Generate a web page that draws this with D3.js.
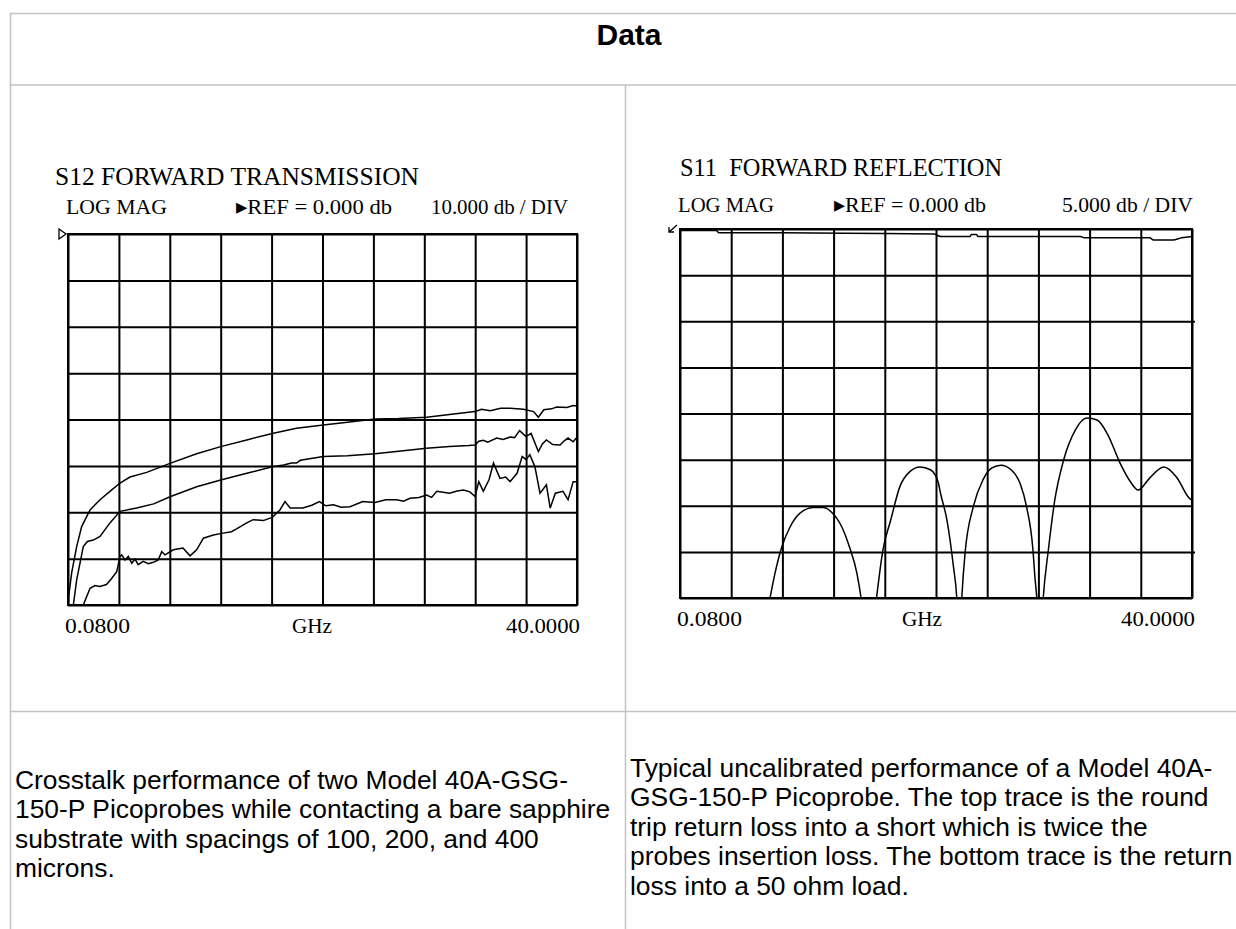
<!DOCTYPE html>
<html>
<head>
<meta charset="utf-8">
<script src="https://cdn.jsdelivr.net/npm/d3@7"></script>
<style>
body { margin: 0; background: #fff; }
text { white-space: pre; }
</style>
</head>
<body>
<svg id="page" width="1236" height="929"></svg>
<script>

// ---- data, [GHz, dB] ----

// S12 crosstalk, probes 100 / 200 / 400 microns apart
var s12_100um = [[0.08,-84],[0.14,-78],[0.37,-73],[0.76,-67.4],[1.15,-63.1],[1.81,-59.5],[2.59,-57.3],[3.37,-55.5],[4.16,-53.7],[4.94,-52.4],[6.25,-51.4],[8.13,-49.4],[10.17,-47.4],[12.13,-45.8],[14.1,-44.4],[16.1,-43.0],[18.0,-41.9],[20.1,-41.2],[22.0,-40.6],[24.16,-39.9],[26.0,-39.8],[28.2,-39.5],[30.0,-38.9],[31.0,-38.6],[32.0,-38.3],[32.5,-37.8],[33.2,-38.1],[34.0,-37.6],[34.75,-37.6],[35.8,-37.8],[36.6,-38.3],[36.97,-39.5],[37.4,-37.9],[38.0,-37.7],[38.4,-37.3],[39.2,-37.4],[39.7,-37.0],[40.0,-37.1]];

var s12_200um = [[0.4,-84],[0.5,-80],[0.76,-74.6],[1.28,-67.4],[1.6,-66.3],[2.06,-66],[2.59,-65.2],[3.37,-62.3],[4.16,-59.8],[5.46,-59.1],[6.8,-58.2],[8.13,-56.6],[10.17,-54.5],[12.13,-53.0],[14.1,-51.6],[16.1,-50.2],[17.0,-49.8],[17.6,-49.4],[18.0,-49.4],[18.3,-48.8],[20.1,-48.0],[22.0,-47.8],[24.16,-47.4],[26.2,-46.8],[28.2,-46.2],[30.0,-45.8],[31.5,-45.6],[32.0,-45.5],[32.3,-44.7],[32.65,-44.5],[33.0,-44.9],[33.7,-44.0],[34.2,-44.3],[34.75,-43.8],[35.1,-43.9],[35.5,-42.4],[36.0,-43.7],[36.4,-43.0],[36.97,-46.9],[37.3,-45.2],[37.6,-44.4],[38.1,-45.4],[38.67,-45.5],[39.0,-44.6],[39.3,-44.0],[39.7,-44.8],[40.0,-43.8]];

var s12_400um = [[1.2,-84],[1.28,-80],[1.81,-76.4],[2.2,-75.8],[2.59,-76.0],[3.1,-75.6],[3.5,-74.3],[3.9,-72.8],[4.16,-69.5],[4.29,-69.2],[4.55,-70.3],[4.81,-69.5],[5.08,-71.0],[5.33,-70.1],[5.59,-71.3],[5.98,-70.6],[6.38,-71.1],[6.77,-70.8],[7.16,-70.3],[7.43,-68.5],[7.69,-69.2],[8.34,-68.1],[9.1,-67.7],[9.65,-69.4],[10.17,-68.1],[10.7,-65.6],[11.48,-64.9],[12.25,-64.5],[12.9,-64.2],[13.3,-63.6],[14.1,-62.3],[14.6,-61.6],[15.4,-61.8],[16.1,-61.1],[16.7,-59.5],[17.1,-57.7],[17.5,-59.1],[18.5,-59.1],[19.2,-58.5],[19.8,-57.7],[20.3,-58.6],[20.9,-58.4],[21.5,-58.9],[22.2,-58.8],[23.2,-57.7],[24.16,-57.9],[25.0,-57.3],[25.85,-57.3],[26.4,-57.6],[26.9,-57.0],[27.6,-56.8],[28.2,-56.3],[28.6,-56.8],[29.0,-55.5],[29.5,-55.7],[30.0,-55.9],[30.6,-55.4],[31.1,-55.2],[31.6,-55.6],[32.0,-56.6],[32.3,-53.4],[32.65,-55.5],[33.1,-53.0],[33.45,-49.4],[33.96,-52.7],[34.4,-52.4],[34.75,-53.4],[35.3,-51.6],[35.7,-48.0],[36.0,-48.6],[36.3,-47.6],[36.7,-50.2],[37.1,-55.9],[37.6,-54.1],[37.9,-59.1],[38.3,-55.9],[38.9,-55.5],[39.3,-57.3],[39.7,-53.4],[40.0,-53.4]];

// S11 return loss: into a short (top) and into a 50 ohm load (bottom)
var s11_short = [[0.08,-0.15],[2.9,-0.15],[3.1,-0.4],[8.0,-0.4],[16.0,-0.5],[19.9,-0.55],[20.4,-0.8],[22.7,-0.8],[22.8,-0.6],[23.2,-0.6],[23.3,-0.8],[31.3,-0.8],[31.6,-0.95],[36.7,-0.95],[37.0,-1.2],[38.5,-1.2],[39.2,-0.95],[40.0,-0.8]];

var s11_load = [[6.6,-44],[7.1,-40],[7.49,-37.3],[8.01,-34.5],[8.66,-32.3],[9.44,-30.8],[10.48,-30.2],[11.26,-30.2],[11.9,-30.7],[12.7,-32.3],[13.3,-34.5],[13.87,-37.3],[14.2,-40],[14.8,-47],[15.4,-40],[15.9,-34.8],[16.5,-31.6],[17.23,-27.9],[18.0,-26.3],[18.8,-25.8],[19.6,-26.1],[20.2,-27.4],[20.4,-28.7],[20.9,-31.6],[21.4,-36.6],[21.66,-40],[21.85,-46],[22.05,-40],[22.3,-35.2],[22.95,-30.1],[23.7,-27.2],[24.4,-25.9],[25.1,-25.6],[25.9,-26.1],[26.6,-27.6],[27.1,-30.1],[27.6,-34.8],[27.75,-37.7],[27.9,-40],[28.15,-46],[28.4,-40],[28.8,-34.8],[29.3,-29.4],[29.98,-25.1],[30.9,-21.8],[31.8,-20.5],[32.6,-20.7],[33.4,-22.2],[34.4,-25.4],[35.2,-27.4],[35.8,-28.3],[36.7,-27.0],[37.8,-25.8],[38.8,-26.9],[39.8,-29.2],[40.0,-29.4]];

// sweep and display settings shown on the screens
var startGHz = 0.08, stopGHz = 40;
var xLabels = ["0.0800", "GHz", "40.0000"];
var refLevel = 0;
var leftScale = 10, rightScale = 5;   // db per division
var xDivs = 10, yDivs = 8;

var leftText = ["Crosstalk performance of two Model 40A-GSG-",
                "150-P Picoprobes while contacting a bare sapphire",
                "substrate with spacings of 100, 200, and 400",
                "microns."];
var rightText = ["Typical uncalibrated performance of a Model 40A-",
                 "GSG-150-P Picoprobe. The top trace is the round",
                 "trip return loss into a short which is twice the",
                 "probes insertion loss. The bottom trace is the return",
                 "loss into a 50 ohm load."];

var svg = d3.select("#page");
svg.append("rect").attr("width", 1236).attr("height", 929).attr("fill", "#fff");

// ---- the html-like table around the plots ----
var border = "#c2c2c2";
function hline(y, x1, x2) {
    svg.append("line").attr("x1", x1).attr("x2", x2).attr("y1", y).attr("y2", y)
        .attr("stroke", border).attr("stroke-width", 1.5);
}
function vline(x, y1, y2) {
    svg.append("line").attr("x1", x).attr("x2", x).attr("y1", y1).attr("y2", y2)
        .attr("stroke", border).attr("stroke-width", 1.5);
}
hline(13.5, 10, 1236);
hline(85, 10, 1236);
hline(711.5, 10, 1236);
vline(10.5, 13, 929);
vline(625.5, 85, 929);

svg.append("text").attr("x", 629).attr("y", 45).attr("text-anchor", "middle")
    .style("font-family", "Liberation Sans, Arial, sans-serif").style("font-weight", "bold")
    .style("font-size", "30px").text("Data");

function paragraph(lines, x, y0) {
    svg.append("text")
        .style("font-family", "Liberation Sans, Arial, sans-serif").style("font-size", "26.4px")
        .selectAll("tspan").data(lines).enter().append("tspan")
        .attr("x", x).attr("y", function(d, i) { return y0 + i * 29.4; })
        .text(function(d) { return d; });
}
paragraph(leftText, 15, 789);
paragraph(rightText, 630, 777);

// ---- one analyzer screen ----
// box = plot area in page pixels, dbPerDiv sets the y range below refLevel
function drawScreen(o) {
    var x = d3.scaleLinear().domain([startGHz, stopGHz]).range([o.box.left, o.box.right]);
    var y = d3.scaleLinear().domain([refLevel - o.dbPerDiv * yDivs, refLevel]).range([o.box.bottom, o.box.top]);
    var w = o.box.right - o.box.left, h = o.box.bottom - o.box.top;

    var g = svg.append("g");
    var serif = "Liberation Serif, Times New Roman, serif";

    var xTicks = d3.range(xDivs + 1).map(function(i) { return startGHz + i * (stopGHz - startGHz) / xDivs; });
    var yTicks = d3.range(yDivs + 1).map(function(i) { return refLevel - i * o.dbPerDiv; });

    // graticule
    g.append("g").attr("transform", "translate(0," + o.box.bottom + ")")
        .call(d3.axisBottom(x).tickValues(xTicks).tickSize(-h).tickFormat(""))
        .call(function(a) { a.select(".domain").remove(); a.selectAll("line").attr("stroke", "#000").attr("stroke-width", 2); });
    g.append("g").attr("transform", "translate(" + o.box.left + ",0)")
        .call(d3.axisLeft(y).tickValues(yTicks).tickSize(-(w + o.overhang)).tickFormat(""))
        .call(function(a) {
            a.select(".domain").remove();
            a.selectAll("line").attr("stroke", "#000").attr("stroke-width", 2)
                // only some rows of the screen run past the right edge
                .attr("x2", function(d) { return o.longRows.indexOf(d) >= 0 ? w + o.overhang : w; });
        });
    g.append("rect").attr("x", o.box.left).attr("y", o.box.top).attr("width", w).attr("height", h)
        .attr("fill", "none").attr("stroke", "#000").attr("stroke-width", 2);

    // reference marker at the left edge
    var ry = y(refLevel), rx = x(startGHz);
    g.append("path").attr("d", o.marker(rx, ry))
        .attr("fill", "none").attr("stroke", "#000").attr("stroke-width", 1.3);

    // traces, clipped to the graticule
    var clipId = "clip" + o.id;
    g.append("clipPath").attr("id", clipId).append("rect")
        .attr("x", o.box.left).attr("y", o.box.top - 2).attr("width", w).attr("height", h + 2);
    var line = d3.line().x(function(d) { return x(d[0]); }).y(function(d) { return y(d[1]); }).curve(o.curve);
    g.append("g").attr("clip-path", "url(#" + clipId + ")")
        .selectAll("path").data(o.traces).enter().append("path")
        .attr("d", line).attr("fill", "none").attr("stroke", "#000").attr("stroke-width", 1.5);

    // screen annotations
    function label(t, lx, ly, size, len, anchor) {
        g.append("text").attr("x", lx).attr("y", ly).attr("text-anchor", anchor || "start")
            .attr("textLength", len).attr("lengthAdjust", "spacingAndGlyphs")
            .style("font-family", serif).style("font-size", size + "px").text(t);
    }
    label(o.title, o.titleX, o.titleY, 25, o.titleLen);
    label("LOG MAG", o.box.left - 2, o.headY, 22, o.logLen);
    label("\u25B8REF = 0.000 db", o.refX, o.headY, 22, o.refLen);
    label(o.dbPerDiv.toFixed(3) + " db / DIV", o.divX, o.headY, 22, o.divLen);
    label(xLabels[0], o.box.left - 3, o.footY, 22, 65);
    label(xLabels[1], o.ghzX, o.footY, 22, 40);
    label(xLabels[2], o.box.right + 3, o.footY, 22, 74, "end");
}

drawScreen({
    id: "L", box: {left: 68, right: 577, top: 234, bottom: 605},
    dbPerDiv: leftScale, traces: [s12_100um, s12_200um, s12_400um], curve: d3.curveLinear,
    overhang: 0, longRows: [],
    marker: function(rx, ry) { return "M" + (rx - 9) + "," + (ry - 5) + "L" + (rx - 2) + "," + ry + "L" + (rx - 9) + "," + (ry + 5) + "Z"; },
    title: "S12 FORWARD TRANSMISSION", titleX: 55, titleY: 185, titleLen: 364,
    headY: 214, logLen: 101, refX: 236, refLen: 156, divX: 431, divLen: 137,
    footY: 633, ghzX: 292
});

drawScreen({
    id: "R", box: {left: 680, right: 1192, top: 229, bottom: 598},
    dbPerDiv: rightScale, traces: [s11_short, s11_load], curve: d3.curveMonotoneX,
    overhang: 3, longRows: [-10, -35],
    marker: function(rx, ry) { return "M" + (rx - 3) + "," + (ry - 4) + "L" + (rx - 11) + "," + (ry + 3) + "M" + (rx - 11) + "," + (ry - 2) + "L" + (rx - 11) + "," + (ry + 3) + "L" + (rx - 6) + "," + (ry + 3); },
    title: "S11  FORWARD REFLECTION", titleX: 680, titleY: 176, titleLen: 322,
    headY: 212, logLen: 96, refX: 834, refLen: 152, divX: 1062, divLen: 131,
    footY: 626, ghzX: 902
});

</script>
</body>
</html>
